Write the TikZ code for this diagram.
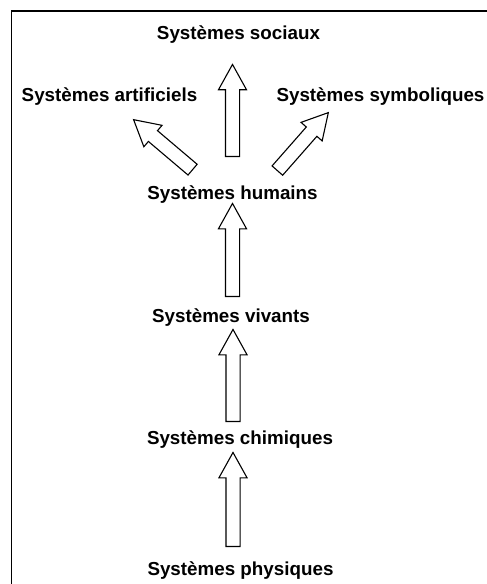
\documentclass[tikz,border=0pt]{standalone}
\usepackage{fontspec}
\setmainfont{Liberation Sans}
\usetikzlibrary{shapes.arrows,calc}
\begin{document}
\begin{tikzpicture}[x=1pt,y=-1pt,
    lab/.style={font=\fontsize{18.8}{22}\selectfont\bfseries,anchor=base,inner sep=0pt},
    hollow/.style={single arrow,draw,line width=1.1pt,fill=white,inner xsep=0pt,inner ysep=6.5pt,
        single arrow head extend=7pt,single arrow tip angle=58,single arrow head indent=0pt,allow upside down}]
    \useasboundingbox (0,0) rectangle (487,584);
    \draw[line width=1.5pt] (11.5,584) |- (487,11);
    \node[lab] (soc) at (238.5,39) {Systèmes sociaux};
    \node[lab] (art) at (109.5,101) {Systèmes artificiels};
    \node[lab] (sym) at (380.5,101) {Systèmes symboliques};
    \node[lab] (hum) at (232.5,199) {Systèmes humains};
    \node[lab] (viv) at (231,322) {Systèmes vivants};
    \node[lab] (chi) at (240,444) {Systèmes chimiques};
    \node[lab] (phy) at (240.5,575) {Systèmes physiques};
    \coordinate (phy1) at (233,547);   \coordinate (chi0) at (233,453);
    \coordinate (chi1) at (233,422);   \coordinate (viv0) at (233,330);
    \coordinate (viv1) at (232.5,297); \coordinate (hum0) at (232.5,204);
    \coordinate (hum1) at (232.5,157); \coordinate (soc0) at (232.5,65);
    \coordinate (hum2) at (193,170);   \coordinate (art0) at (134,120);
    \coordinate (hum3) at (277,171);   \coordinate (sym0) at (328,113);
    \foreach \a/\b in {phy1/chi0,chi1/viv0,viv1/hum0,hum1/soc0,hum2/art0,hum3/sym0}
        \path let \p1=($(\b)-(\a)$) in (\a) -- (\b)
            node[pos=0,sloped,hollow,anchor=tail,minimum height={veclen(\x1,\y1)}] {};
\end{tikzpicture}
\end{document}
